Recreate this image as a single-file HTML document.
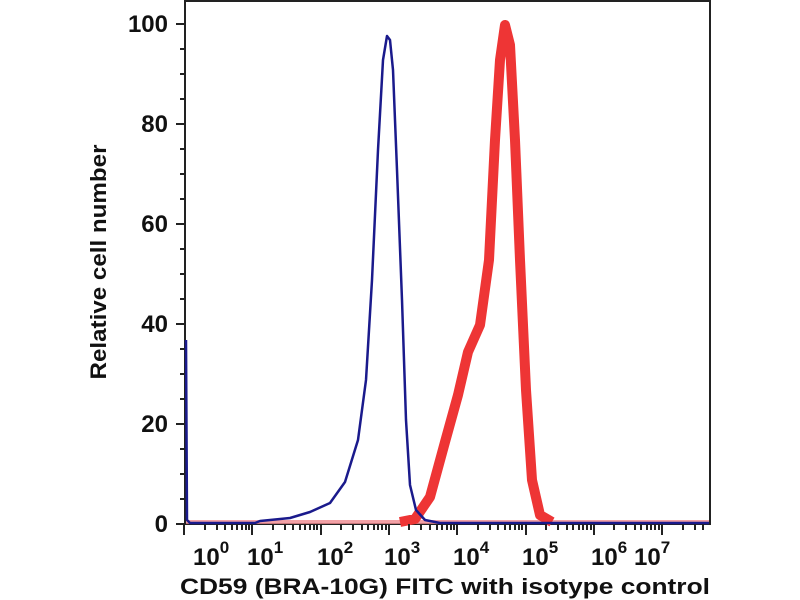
<!DOCTYPE html>
<html><head><meta charset="utf-8"><style>
body{margin:0;background:#fff;width:800px;height:600px;overflow:hidden;position:relative}
text{font-family:"Liberation Sans",Arial,sans-serif;font-weight:bold;fill:#111}
.M{position:absolute;top:524px;width:2px;height:11px;background:#222}
.m{position:absolute;top:524px;width:2px;height:6px;background:#222}
</style></head><body>
<svg width="800" height="600" viewBox="0 0 800 600" style="position:absolute;left:0;top:0">
<rect x="185" y="1" width="525" height="523" fill="#fff" stroke="#222" stroke-width="2"/>
<g stroke="#222" stroke-width="2">
<line x1="176" y1="24" x2="185" y2="24"/><line x1="176" y1="124" x2="185" y2="124"/><line x1="176" y1="224" x2="185" y2="224"/><line x1="176" y1="324" x2="185" y2="324"/><line x1="176" y1="424" x2="185" y2="424"/><line x1="176" y1="524" x2="185" y2="524"/>
<line x1="180" y1="49" x2="185" y2="49"/><line x1="180" y1="74" x2="185" y2="74"/><line x1="180" y1="99" x2="185" y2="99"/>
<line x1="180" y1="149" x2="185" y2="149"/><line x1="180" y1="174" x2="185" y2="174"/><line x1="180" y1="199" x2="185" y2="199"/>
<line x1="180" y1="249" x2="185" y2="249"/><line x1="180" y1="274" x2="185" y2="274"/><line x1="180" y1="299" x2="185" y2="299"/>
<line x1="180" y1="349" x2="185" y2="349"/><line x1="180" y1="374" x2="185" y2="374"/><line x1="180" y1="399" x2="185" y2="399"/>
<line x1="180" y1="449" x2="185" y2="449"/><line x1="180" y1="474" x2="185" y2="474"/><line x1="180" y1="499" x2="185" y2="499"/>
</g>
<g font-size="24" text-anchor="end">
<text x="168" y="32">100</text><text x="168" y="132">80</text><text x="168" y="232">60</text><text x="168" y="332">40</text><text x="168" y="432">20</text><text x="168" y="532">0</text>
</g>
<g font-size="24">
<text x="193" y="565">10<tspan font-size="17" dy="-12">0</tspan></text>
<text x="247" y="565">10<tspan font-size="17" dy="-12">1</tspan></text>
<text x="317" y="565">10<tspan font-size="17" dy="-12">2</tspan></text>
<text x="384" y="565">10<tspan font-size="17" dy="-12">3</tspan></text>
<text x="453" y="565">10<tspan font-size="17" dy="-12">4</tspan></text>
<text x="522" y="565">10<tspan font-size="17" dy="-12">5</tspan></text>
<text x="591" y="565">10<tspan font-size="17" dy="-12">6</tspan></text>
<text x="634" y="565">10<tspan font-size="17" dy="-12">7</tspan></text>
</g>
<text x="445" y="594" font-size="22" text-anchor="middle" textLength="530" lengthAdjust="spacingAndGlyphs">CD59 (BRA-10G) FITC with isotype control</text>
<text transform="translate(106,262) rotate(-90)" font-size="22" text-anchor="middle" textLength="235" lengthAdjust="spacingAndGlyphs">Relative cell number</text>
<line x1="186" y1="522" x2="709" y2="522" stroke="#f08a90" stroke-width="4" opacity="0.8"/>
<polyline fill="none" stroke="#ee3535" stroke-width="10" stroke-linejoin="round" points="400,522 415,519 430,497 445,442 458,395 468,352 480,325 489,260 495,140 500,60 505,25 510,45 515,140 520,260 526,390 532,480 540,515 552,522"/>
<polyline fill="none" stroke="#1a1a8c" stroke-width="2.5" stroke-linejoin="round" points="186,340 187,520 190,523 255,523 260,521 290,518 310,512 330,503 345,482 358,440 366,380 372,280 378,150 383,60 387,36 390,40 393,70 397,170 402,300 406,420 410,485 416,510 425,520 440,523 709,523"/>
</svg>
<div class="M" style="left:183px"></div><div class="M" style="left:251px"></div><div class="M" style="left:320px"></div><div class="M" style="left:388px"></div><div class="M" style="left:456px"></div><div class="M" style="left:525px"></div><div class="M" style="left:593px"></div><div class="M" style="left:661px"></div>
<div class="m" style="left:204px"></div><div class="m" style="left:216px"></div><div class="m" style="left:224px"></div><div class="m" style="left:231px"></div><div class="m" style="left:236px"></div><div class="m" style="left:241px"></div><div class="m" style="left:245px"></div><div class="m" style="left:248px"></div>
<div class="m" style="left:272px"></div><div class="m" style="left:284px"></div><div class="m" style="left:292px"></div><div class="m" style="left:299px"></div><div class="m" style="left:304px"></div><div class="m" style="left:309px"></div><div class="m" style="left:313px"></div><div class="m" style="left:316px"></div>
<div class="m" style="left:340px"></div><div class="m" style="left:352px"></div><div class="m" style="left:361px"></div><div class="m" style="left:367px"></div><div class="m" style="left:373px"></div><div class="m" style="left:377px"></div><div class="m" style="left:381px"></div><div class="m" style="left:385px"></div>
<div class="m" style="left:408px"></div><div class="m" style="left:420px"></div><div class="m" style="left:429px"></div><div class="m" style="left:436px"></div><div class="m" style="left:441px"></div><div class="m" style="left:446px"></div><div class="m" style="left:450px"></div><div class="m" style="left:453px"></div>
<div class="m" style="left:477px"></div><div class="m" style="left:489px"></div><div class="m" style="left:497px"></div><div class="m" style="left:504px"></div><div class="m" style="left:509px"></div><div class="m" style="left:514px"></div><div class="m" style="left:518px"></div><div class="m" style="left:521px"></div>
<div class="m" style="left:545px"></div><div class="m" style="left:557px"></div><div class="m" style="left:566px"></div><div class="m" style="left:572px"></div><div class="m" style="left:578px"></div><div class="m" style="left:582px"></div><div class="m" style="left:586px"></div><div class="m" style="left:590px"></div>
<div class="m" style="left:613px"></div><div class="m" style="left:625px"></div><div class="m" style="left:634px"></div><div class="m" style="left:640px"></div><div class="m" style="left:646px"></div><div class="m" style="left:650px"></div><div class="m" style="left:654px"></div><div class="m" style="left:658px"></div>
<div class="m" style="left:682px"></div><div class="m" style="left:694px"></div><div class="m" style="left:702px"></div>
</body></html>
